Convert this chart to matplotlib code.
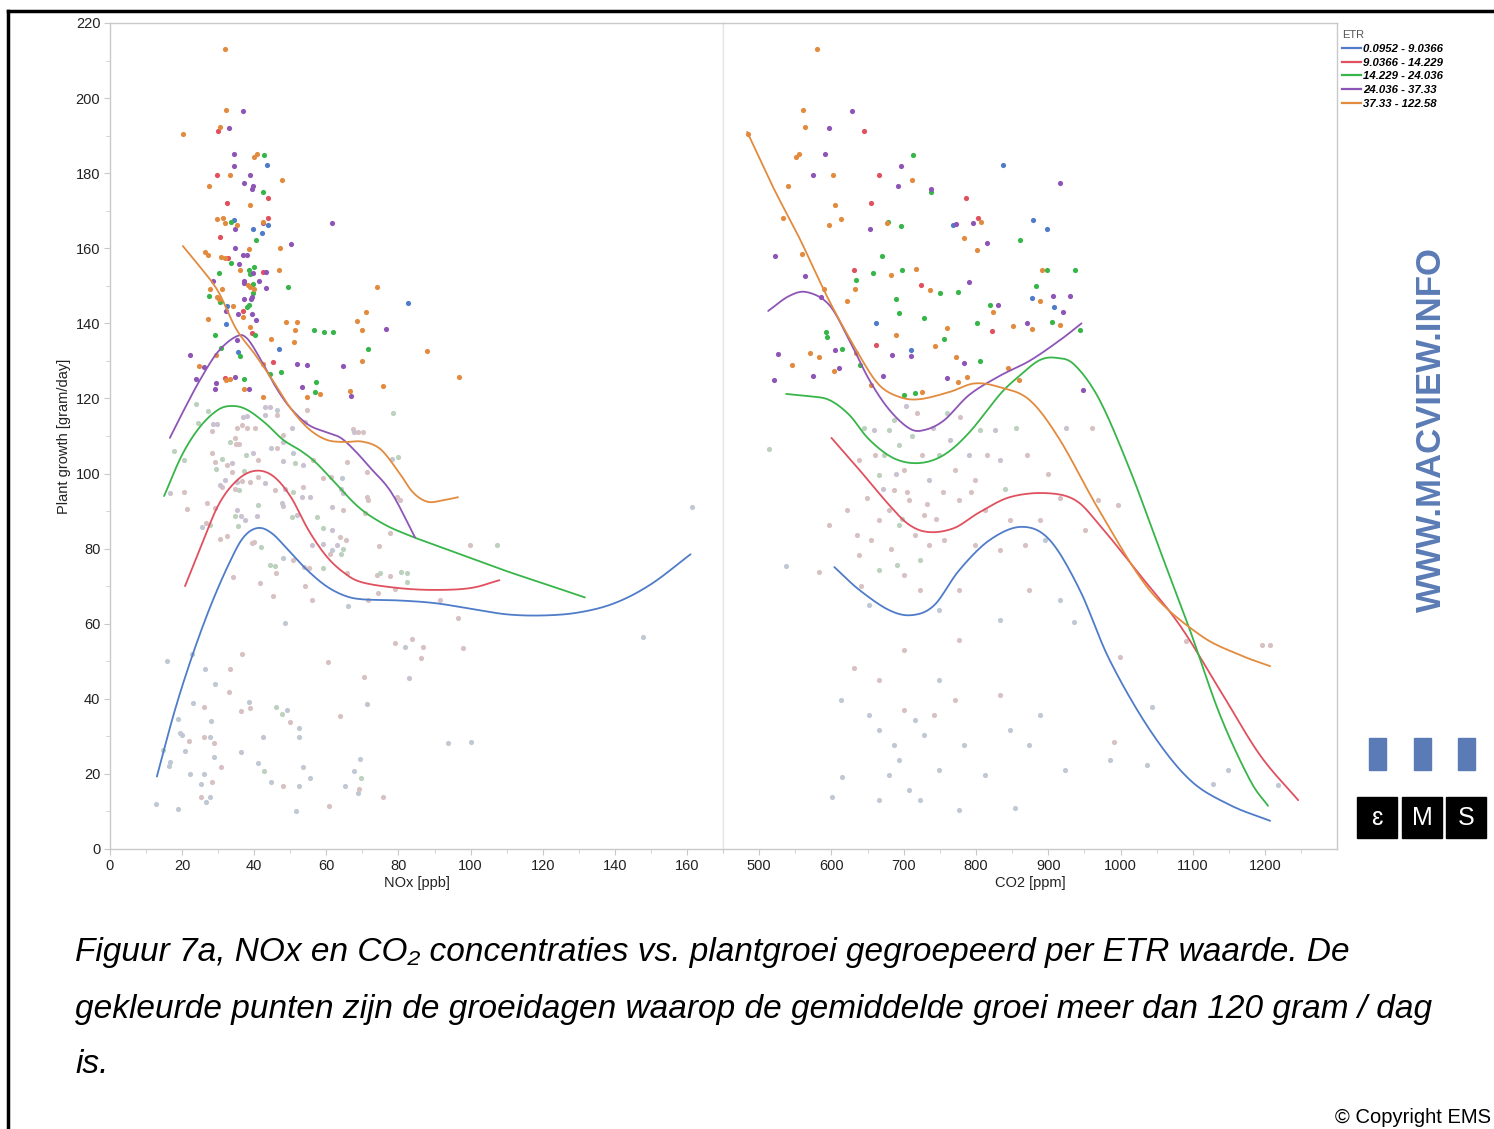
import matplotlib
matplotlib.use("Agg")
import numpy as np
import matplotlib.pyplot as plt
from matplotlib.lines import Line2D
from matplotlib.patches import Rectangle
from matplotlib.ticker import MultipleLocator
from matplotlib.colors import to_rgb

plt.rcParams['font.family'] = ['Liberation Sans', 'DejaVu Sans']

W, H = 1494, 1129

groups = ["0.0952 - 9.0366", "9.0366 - 14.229", "14.229 - 24.036", "24.036 - 37.33", "37.33 - 122.58"]
colors = ["#4f7cc9", "#e0505e", "#38b549", "#8e55b6", "#e28b3e"]

# ---- Left panel (NOx) : points with growth >= 120  (x, y, group)
left_hi = [
 (31.9,213.2,4),(32.1,196.8,4),(37,196.5,3),(30.5,192.4,4),(32.9,192.1,3),(29.9,191.2,1),(20.3,190.5,4),
 (34.4,185.1,3),(40.7,185.1,4),(39.9,184.2,4),(42.8,184.8,2),(43.5,182.1,0),(34.3,181.9,3),(29.8,179.5,1),
 (33.4,179.5,4),(38.8,179.5,3),(47.6,178.2,4),(37.2,177.4,3),(27.5,176.6,4),(39.7,176.6,3),(39.3,175.8,3),
 (42.3,175.1,2),(43.8,173.4,1),(32.4,172.1,1),(38.9,171.5,4),(29.7,167.9,4),(31.4,168.1,4),(33.6,167.1,2),
 (34.5,167.5,0),(31.9,166.8,4),(35.3,166.2,4),(43.8,168.1,1),(42.5,167.1,4),(42.3,166.6,3),(43.8,166.2,0),
 (39.6,165.2,0),(34.7,165.2,3),
 (30.5,162.9,1),(42.2,164.1,0),(40.5,162.1,2),(50.2,161.1,3),(47.1,160.1,4),(26.3,159.1,4),(27.1,158.2,4),
 (34.8,160.1,3),(38.5,159.8,4),(37,158.2,3),(37.9,158.2,3),(30.8,157.8,4),(31.9,157.5,4),(32.8,157.4,1),
 (35.7,155.8,3),(33.6,156,2),(39.9,155.1,2),(36.1,154.1,4),(38.6,154.1,2),(38.8,153.1,2),(39.6,153.5,3),
 (42.4,153.7,1),(43.3,153.7,3),(46.9,154.1,4),(30.3,153.5,2),(28.7,151.4,3),(37.2,151.2,3),(37.3,150.7,3),
 (39.7,150.5,2),(41.4,151.4,3),(38.4,150.1,4),(38.8,149.7,4),(39.9,149.1,4),(49.4,149.7,2),(43.3,149.4,3),
 (27.7,149.1,4),(31,149.1,4),(39.6,148.1,2),(27.5,147.4,2),(29.8,146.9,4),(30.3,146.5,4),(30.6,145.7,2),
 (39.3,147.1,3),(39,146.4,3),(37.1,146.5,3),(38.6,144.9,2),(38.1,144.4,2),(32.5,144.6,0),(32.3,143.4,3),
 (34,144.7,4),(36.9,143.3,1),(35.4,142.6,3),(39.4,142.4,3),(36.8,141.8,4),(27.2,141.1,4),(40.5,140.9,3),
 (48.9,140.4,4),(51.9,140.4,4),(32.3,139.7,0),(38.7,138.9,4),(51.4,138.1,4),(39.5,137.5,1),(40.1,137,2),
 (29.1,137,2),(50.9,135,4),(44.7,135.8,4),(35.1,135.6,3),(46.8,133.2,0),(35.4,132.4,0),(36,131.4,2),
 (30.7,133.4,2),(22.2,131.7,3),(29.4,131.7,4),(24.8,128.7,4),(26.1,128.4,3),(45.1,129.8,1),(42.5,129.3,4),
 (47.3,127.1,2),(44.4,126.4,2),(51.9,129.3,3),(54.5,129,3),(23.8,125.1,3),(29.4,124,3),(32,125.4,1),
 (32.1,124.9,4),(33.3,125.3,4),(34.6,125.7,3),(37.2,125.1,2),(29.1,122.4,3),(37.2,122.4,4),(38.5,122.4,3),
 (53.2,123.1,3),(54.5,120.4,4),
 (61.7,166.8,3),(74,149.7,4),(82.6,145.5,0),(71.1,143.1,4),(68.4,140.7,4),(76.6,138.5,3),(69.8,138.1,4),
 (56.5,138.1,2),(59.3,137.7,2),(61.8,137.7,2),(71.5,133.2,2),(87.8,132.7,4),(69.9,130,4),(64.6,128.7,3),
 (96.8,125.7,4),(57.1,124.4,2),(75.7,123.4,4),(56.8,121.7,2),(58.3,121.3,4),(66.6,122,4),(66.9,120.7,3),
 (42.5,120.4,4),
]

# ---- Left panel : points with growth < 120 (faded)
left_lo = [
 (65.9,64.7,0),(48.4,60.3,0),(15.7,50.2,0),(22.8,51.9,0),(36.5,51.9,1),(60.5,49.9,1),(79,54.9,1),(81.9,53.9,0),
 (83.8,55.9,1),(86.9,53.9,1),(86.2,50.9,1),(98,53.6,1),(82.8,45.5,3),(26.3,47.9,0),(33.4,47.9,1),(29.1,43.9,0),
 (32.9,41.9,1),(22.9,38.9,0),(26.1,37.9,1),(36.4,36.8,1),(38.8,37.5,1),(38.6,39.2,0),(27.9,34.1,0),(18.9,34.6,0),
 (19.4,30.8,0),(19.9,30.4,0),(26.2,29.9,1),(27.7,29.9,0),(21.9,28.8,1),(28.8,28.1,1),(20.9,26.2,0),(36.4,25.8,3),
 (28.8,24.6,0),(14.8,26.5,2),(16.6,23.1,0),(16.3,22.1,0),(30.8,21.9,1),(22.3,19.9,0),(26.2,19.9,0),(25.3,17.2,0),
 (28.3,17.8,1),(25.3,13.8,1),(27.8,13.8,0),(26.6,12.4,0),(12.8,11.9,0),(18.9,10.7,0),(42.4,29.9,3),(41,22.9,0),
 (42.7,20.9,2),(44.6,17.8,0),(46,37.9,2),(47.7,36,2),(49.1,36.9,0),(49.8,33.9,1),(52.4,32.2,0),(52.5,29.9,0),
 (53.4,21.8,0),(55.4,18.8,0),(47.9,16.9,1),(52.5,16.9,0),(51.6,10.2,0),(63.7,35.5,1),(70.5,45.9,1),(71.3,38.5,3),
 (69.3,23.9,0),(67.6,20.9,0),(69.6,18.8,2),(69.1,15.9,1),(68.8,14.8,0),(65.1,16.9,0),(60.6,11.5,1),(75.8,13.9,1),
 (93.6,28.2,0),
 (23.8,118.5,2),(27.3,116.7,2),(24.5,113.4,2),(28.5,113.1,3),(29.6,113.1,3),(28.2,111.4,1),(35.1,112,1),(37.9,112,1),
 (36.5,112.9,1),(40.2,112,1),(37,115.1,3),(38.1,115.3,3),(43,115.6,3),(44.4,117.8,3),(43,117.8,3),(46.2,115.6,1),
 (46.2,116.9,0),(48.1,110.3,1),(48.1,108.5,3),(50.4,112,3),(54.1,113.8,1),(54.5,116.9,1),(33.3,108.5,2),(34.7,109.4,1),
 (34.9,108,1),(35.9,107.8,1),(17.8,106.1,2),(20.5,103.6,2),(28.2,105.5,1),(29.1,103.1,1),(31,104,2),(33.7,102.9,3),
 (32.4,102.3,1),(39.7,105.6,3),(37.7,104.9,2),(41.1,103.6,1),(46.2,106.7,1),(44.7,106.9,0),(48.1,103.4,3),(50.7,105.4,0),
 (51.3,102.7,2),(53.6,102.3,3),(56.2,103.6,1),(29.4,101.1,2),(33.7,100.5,1),(37.1,100.7,2),(36.5,98.1,1),(35.1,97.8,3),
 (31.9,98.3,3),(30.5,96.9,3),(31.1,96.3,1),(34.7,96,1),(35.9,95.6,2),(20.5,95,1),(16.6,94.7,3),(38.8,97.8,1),
 (41.1,99,1),(43,97.4,3),(45.8,95.6,1),(48.5,96,3),(47.6,92.1,3),(48.1,91.3,3),(50.7,95.2,2),(53.6,96.5,1),
 (53.3,93.8,3),(55.5,93.8,3),(59.2,98.7,1),(61.2,99.1,1),(64.1,95.8,3),(64.4,98.7,0),(64.7,94.9,3),(50.4,88.5,2),
 (51.8,88.9,3),(21.4,90.5,1),(26.8,92.1,1),(29.1,90.9,1),(35.1,90.3,3),(36.2,88.7,3),(34.7,88.7,2),(41.1,91.6,2),
 (40.7,88.7,3),(37.4,87.6,3),(35.6,86,2),(32.4,83.4,1),(30.5,82.5,1),(26.6,86.9,1),(27.7,86.3,2),(25.4,85.8,0),
 (40,81.8,1),(39.3,81.5,1),(41.9,80.5,2),(34.2,72.4,1),(41.6,70.9,1),(45.3,67.4,1),(44.4,75.6,2),(45.8,75.4,2),
 (46,73.6,1),(48.1,77.4,0),(50.8,77,1),(54.1,70,1),(55.9,66.3,1),(53.9,75.2,1),(55.3,74.8,1),(59.2,85.4,2),
 (61.7,85,3),(57.5,88.5,2),(61.5,91.2,3),(55.9,81,3),(59.2,81.2,3),(64.5,90.3,1),(64.7,79.8,2),(64.2,78.7,2),
 (61.7,79.6,0),(65.6,103.1,1),(70.8,89.4,1),(71.2,93.8,1),(71.6,92.9,1),(74.7,80.8,1),(77.6,84.1,1),(74,73,1),
 (74.9,73.4,2),(77.6,72.7,1),(78.1,103.8,0),(80,104.3,2),(78.4,116,2),(67.8,111.1,3),(68.9,111.1,1),(70.3,111.1,1),
 (67.3,111.8,1),(71.2,100.5,1),(79.5,93.8,1),(80.4,92.9,1),(71.6,66.3,1),(80.7,73.8,2),(82.3,73.6,2),(82.3,71.2,2),
 (79,69.2,1),(74.4,68.3,1),(65.6,73.4,1),(65.4,82.3,1),(63.8,83.2,1),(62.9,81,3),(59.2,74.8,2),(61,78.7,1),
 (99.8,81,1),(107.3,81,2),(161.4,91,0),(147.8,56.5,0),(91.5,66.3,1),(96.6,61.5,1),(100.2,28.5,0),
]

# ---- Right panel (CO2) : points with growth >= 120
right_hi = [
 (580,213.2,4),(560,196.8,4),(628.5,196.5,3),(563.3,192.4,4),(596.6,192.1,3),(644.6,191.2,1),(484.3,190.5,4),
 (554.5,185.1,4),(551.3,184.2,4),(590.5,185.1,3),(713,184.8,2),(837.3,182.1,0),(696.4,181.9,3),(574.4,179.5,3),
 (602.6,179.5,4),(665.4,179.5,1),(711.6,178.2,4),(915.8,177.4,3),(691.7,176.6,3),(539.3,176.6,4),(737.5,175.7,3),
 (737.5,175.1,2),(786,173.4,1),(655.3,172.1,1),(604.4,171.5,4),(533.3,168.1,4),(613.7,167.9,4),(677.9,167.1,2),
 (676.5,166.8,4),(695.9,165.8,2),(802.2,168.1,1),(807.3,167.1,4),(795.7,166.8,3),(768,166.2,0),(772.7,166.5,3),
 (878.8,167.5,0),(898.2,165.2,0),(653.9,165.2,3),(596,166.2,4),
 (522,157.9,3),(559.6,158.5,4),(563.7,152.6,3),(590,149.1,4),(586,147,3),(593,137.7,2),(594,136.5,2),
 (526,131.8,3),(605,132.9,3),(583,131,4),(615,133.2,2),(611,128.1,3),(604,127.3,4),(634.5,132.1,4),(658,153.4,2),
 (631.7,154.2,1),(634.5,151.5,2),(633,149.1,4),(622,146,4),(670.5,157.9,2),(683,152.9,4),(690,146.5,2),(698,154.2,2),
 (717,154.5,4),(724.6,150.2,1),(736,149,4),(661,134.2,1),(662,140,0),(684,131.6,3),(694,142.7,2),(710.7,132.9,0),
 (710.7,131.3,3),(728.7,141.4,2),(744,134,4),(756.4,135.8,2),(760.6,138.7,4),(773,131,4),(784,129.5,3),(750,148,2),
 (774.5,148.3,2),(784,162.7,4),(802,159.5,4),(814.7,161.4,3),(823,143,4),(821.6,137.9,1),(818.8,144.9,2),
 (860.4,162.2,2),(877,146.7,0),(882.6,149.9,2),(870,140,3),(898,154.2,2),(891,154.2,4),(906,147.3,3),(920,143,3),
 (916,139.5,4),(907.5,144.3,0),(905,140.3,2),(889,146,4),(936.6,154.2,2),(929.7,147.3,3),(943.6,138.2,2),
 (947.7,122.2,3),(877,138.5,4),(851,139.3,4),(860,125,4),(788,125.7,4),(805,130,2),(775,124.5,4),(760,125.5,3),
 (700,121,2),(715,121.5,2),(725,121.8,4),(672,126,3),(655,123.5,4),(640,129,2),(575,126,3),(570,132,4),
 (545,129,4),(520,125,3),(690,137,4),(830,145,3),(845,128,4),(790,151,3),(802,140,2),
]

# ---- Right panel : points with growth < 120 (faded)
right_lo = [
 (513.9,106.5,2),(537.4,75.4,0),(583,73.8,1),(597,86.3,1),(613.7,39.7,0),(615,19.2,0),(601,13.8,0),(631.7,48.2,1),
 (652.5,65,0),(641.4,70,1),(655,82.3,1),(649.7,93.5,1),(666,99.6,2),(673,104.9,2),(680,111.6,2),(659.4,111.6,3),
 (687,114.2,2),(694,107.6,2),(701,100.9,1),(687,95.6,1),(708,92.9,1),(680,90.3,1),(666,87.6,1),(694,86.3,2),
 (715,83.6,1),(728.7,88.9,1),(735.7,98.3,3),(749.5,104.9,2),(763.4,108.9,3),(770.3,100.9,1),(777.2,92.9,1),
 (791,104.9,3),(805,111.6,2),(825.8,111.6,3),(798,98.3,1),(832.7,103.6,3),(812,90.3,1),(846.6,87.6,1),(867.4,81,1),
 (888,87.6,1),(895,82.3,0),(916,93.5,1),(950.5,85,1),(968.5,92.9,1),(996,91.6,1),(935,60.5,0),(999,51.1,1),
 (1043.4,37.8,0),(990.7,28.5,1),(985,23.7,0),(1036.5,22.4,0),(922.8,21,0),(853.5,10.9,0),(1148.7,21,0),(1128,17.3,0),
 (1218,17,0),(1195.9,54.3,1),(1207,54.3,1),(1090.5,55.4,1),
 (652.5,35.7,0),(666,31.7,0),(687,27.7,0),(701,37,1),(715,34.4,0),(728.7,30.4,0),(742.6,35.7,1),(694,23.7,0),
 (680,19.7,0),(708,15.7,0),(722,13,0),(749.5,21,0),(770.3,39.7,1),(784,27.7,0),(812,19.7,0),(832.7,41,1),
 (846.6,31.7,0),(888,35.7,0),(874,27.7,0),(666,45,1),(749.5,45,0),(701,53,1),(777,55.6,1),(832.7,61,0),(666,13,0),
 (777,10.4,0),(874,69,1),(916,66.3,0),(777,69,1),(749.5,63.6,0),(722,69,1),(691.3,75.6,2),(701,73,1),(666,74.3,2),
 (638.6,78.3,1),(638.6,103.6,1),(622,90.3,1),(636,83.6,1),(722,77,2),(735.6,81,1),(756.4,82.3,1),(798,81,1),
 (832.7,79.6,1),(690,100,3),(705,95,1),(712,110,2),(725,105,1),(740,112,3),(755,95,1),(698,88,2),(683,80,1),
 (672,96,3),(660,105,1),(645,112,2),(732,92,1),(745,88,1),(760,116,2),(718,116,1),(703,118,3),(778,115,1),
 (793,95,1),(815,105,1),(840,96,2),(855,112,2),(870,105,1),(900,100,1),(925,112,3),(960,112,1),
]

# ---- Smoothed trend lines per ETR group (NOx)
left_curve_x = [
 [13,18,23,28,33,37,41,45,50,55,60,65,70,80,90,100,110,120,130,140,150,161],
 [20.8,25,30,35,40,45,50,55,60,65,70,80,90,100,108],
 [15,20,25,30,34,38,43,48,53,57,62,69,76,83,90,100,110,120,131.7],
 [16.6,20,25,30,35,38,42,46,50,55,60,64,68,72,78,84.6],
 [20.2,25,30,35,40,45,50,55,60,65,70,75,80,84,88,92,96.5],
]
left_curve_y = [
 [19.3,37,52,65,76,83,85.5,84,79,74,70,67.5,66.5,66.2,65.5,64,62.5,62.2,63,65.5,70.5,78.5],
 [70,80,91.5,98,100.7,99.5,94,85,78,73.5,71,69.5,69,69.5,71.6],
 [94,105,112.5,117,118,117,113.5,109,106,103,98,91,86.5,83.5,81,77.5,74,70.8,67],
 [109.5,116,125,132.5,136.5,136,130,123,117.5,113,111,109.5,106,101.7,95,83],
 [160.6,155,148.5,138.5,132,125,117.5,112,109,108.4,108.5,106.5,100.5,95,92.5,92.8,93.7],
]

# ---- Smoothed trend lines per ETR group (CO2)
right_curve_x = [
 [604,638.6,680,712,742.6,777,819,863,902,943.6,985,1040.6,1096,1151.5,1207],
 [600,638.6,680,708,735.6,770,805,846.6,895,936.6,971,1026.8,1082,1137.6,1193,1245.8],
 [537.4,569,597,624.8,652.5,687,722,756,791,832.7,860,888,911.7,936.6,971,1013,1054.5,1096,1137.6,1179,1204],
 [512.5,541.6,566.5,597,624.8,652.5,680,708,728.7,756,791,832.7,874,916,946],
 [483.4,520,555,597,638.6,666,694,722,763,798,833,874,916,971,1040,1110,1165,1207],
]
right_curve_y = [
 [75.1,69,63.6,62.3,65,74.3,82.3,85.8,82.3,69,50.3,31.7,18.4,11.7,7.5],
 [109.5,101,91.6,86.3,84.4,85.5,89.7,93.7,94.8,93,86.3,73,59.6,42.3,25,13],
 [121.2,120.6,119.6,115.6,109,104,102.8,105,111,121,126,130.2,130.8,128.9,119.6,101,79.6,58.3,35.7,18.4,11.5],
 [143.3,147.3,148.3,144.9,135.5,124.9,117,112,111.6,114.2,121,126,130,135.5,140],
 [191,176,163,146,131.5,123.6,120.4,119.8,121.7,124,123,119.6,109,90,69,57,51.7,48.7],
]


def smooth_path(xs, ys, n=12):
    """Catmull-Rom rendering through the read points (drawing only)."""
    p = np.column_stack([xs, ys]).astype(float)
    p = np.vstack([2 * p[0] - p[1], p, 2 * p[-1] - p[-2]])
    out = []
    t = np.linspace(0, 1, n, endpoint=False)[:, None]
    for i in range(1, len(p) - 2):
        p0, p1, p2, p3 = p[i - 1], p[i], p[i + 1], p[i + 2]
        seg = 0.5 * ((2 * p1) + (-p0 + p2) * t + (2 * p0 - 5 * p1 + 4 * p2 - p3) * t ** 2
                     + (-p0 + 3 * p1 - 3 * p2 + p3) * t ** 3)
        out.append(seg)
    out.append(p[-2][None, :])
    out = np.vstack(out)
    return out[:, 0], out[:, 1]


def faded(c):
    r = np.array(to_rgb(c))
    g = np.array(to_rgb("#d6d6d6"))
    return tuple(0.16 * r + 0.84 * g)


fig = plt.figure(figsize=(W / 100, H / 100), dpi=100)

ax_l = fig.add_axes([110 / W, (H - 849) / H, 613 / W, 826 / H])
ax_r = fig.add_axes([723 / W, (H - 849) / H, 614 / W, 826 / H], sharey=ax_l)


def draw(ax, hi, lo, cx, cy):
    for g in range(5):
        xs = [p[0] for p in lo if p[2] == g]
        ys = [p[1] for p in lo if p[2] == g]
        ax.scatter(xs, ys, s=14, color=faded(colors[g]), linewidths=0, zorder=2)
    for g in range(5):
        xs = [p[0] for p in hi if p[2] == g]
        ys = [p[1] for p in hi if p[2] == g]
        ax.scatter(xs, ys, s=14, color=colors[g], linewidths=0, zorder=3)
    for g in range(5):
        sx, sy = smooth_path(cx[g], cy[g])
        ax.plot(sx, sy, color=colors[g], lw=1.3, zorder=4, solid_capstyle='round')


draw(ax_l, left_hi, left_lo, left_curve_x, left_curve_y)
draw(ax_r, right_hi, right_lo, right_curve_x, right_curve_y)

ax_l.set_xlim(0, 170)
ax_r.set_xlim(450, 1299.5)
ax_l.set_ylim(0, 220)

ax_l.xaxis.set_major_locator(MultipleLocator(20))
ax_l.xaxis.set_minor_locator(MultipleLocator(10))
ax_r.xaxis.set_major_locator(MultipleLocator(100))
ax_r.xaxis.set_minor_locator(MultipleLocator(50))
ax_l.yaxis.set_major_locator(MultipleLocator(20))
ax_l.yaxis.set_minor_locator(MultipleLocator(10))

spine_c = "#c9c9c9"
for ax in (ax_l, ax_r):
    for s in ax.spines.values():
        s.set_color(spine_c)
        s.set_linewidth(1.0)
    ax.tick_params(which='major', length=4, color=spine_c, labelsize=10.5, labelcolor='#222222', pad=3)
    ax.tick_params(which='minor', length=3, color=spine_c)
ax_l.spines['right'].set_color('#e6e6e6')
ax_r.spines['left'].set_color('#e6e6e6')
ax_r.tick_params(axis='y', which='both', left=False, labelleft=False)

ax_l.set_xlabel("NOx [ppb]", fontsize=10.5, labelpad=2, color='#222222')
ax_r.set_xlabel("CO2 [ppm]", fontsize=10.5, labelpad=2, color='#222222')
ax_l.set_ylabel("Plant growth [gram/day]", fontsize=10.5, color='#222222')
ax_l.yaxis.set_label_coords(-(110 - 71) / 613, 0.5)

# legend
handles = [Line2D([0], [0], color=c, lw=1.6) for c in colors]
leg = fig.legend(handles, groups, loc='upper left', bbox_to_anchor=(1339 / W, 1 - 27 / H),
                 frameon=False, title="ETR", alignment='left',
                 prop={'size': 8.2, 'weight': 'bold', 'style': 'italic'},
                 title_fontsize=8, handlelength=1.6, handletextpad=0.25, labelspacing=0.32,
                 borderaxespad=0, borderpad=0.3)
leg.get_title().set_color('#555555')

# frame lines
fig.add_artist(Line2D([8 / W, 8 / W], [0, 1 - 11 / H], color='black', lw=2.5, transform=fig.transFigure))
fig.add_artist(Line2D([8 / W, 1], [1 - 11 / H, 1 - 11 / H], color='black', lw=2.5, transform=fig.transFigure))

# watermark
fig.text(1431 / W, 1 - 430 / H, "WWW.MACVIEW.INFO", rotation=90, ha='center', va='center',
         fontsize=25, fontweight='bold', color='#5b7bb6')

for x0 in (1369, 1414, 1458):
    fig.add_artist(Rectangle((x0 / W, 1 - 770 / H), 17 / W, 32 / H, color='#5b7bb6',
                             transform=fig.transFigure))
for x0, ch in zip((1357, 1402, 1446), ("\u025b", "M", "S")):
    fig.add_artist(Rectangle((x0 / W, 1 - 838 / H), 40 / W, 41 / H, color='black',
                             transform=fig.transFigure))
    fig.text((x0 + 20) / W, 1 - 818 / H, ch, color='white', ha='center', va='center', fontsize=18)

# caption
cap_kw = dict(fontsize=24, style='italic', color='black', ha='left', va='baseline')
fig.text(75 / W, 1 - 961 / H,
         "Figuur 7a, NOx en CO\u2082 concentraties vs. plantgroei gegroepeerd per ETR waarde. De", **cap_kw)
fig.text(75 / W, 1 - 1018 / H,
         "gekleurde punten zijn de groeidagen waarop de gemiddelde groei meer dan 120 gram / dag", **cap_kw)
fig.text(75 / W, 1 - 1073 / H, "is.", **cap_kw)

fig.text(1491 / W, 1 - 1123 / H, "\u00a9 Copyright EMS", fontsize=14.5, ha='right', va='baseline', color='black')

fig.savefig("out.png", dpi=100)
